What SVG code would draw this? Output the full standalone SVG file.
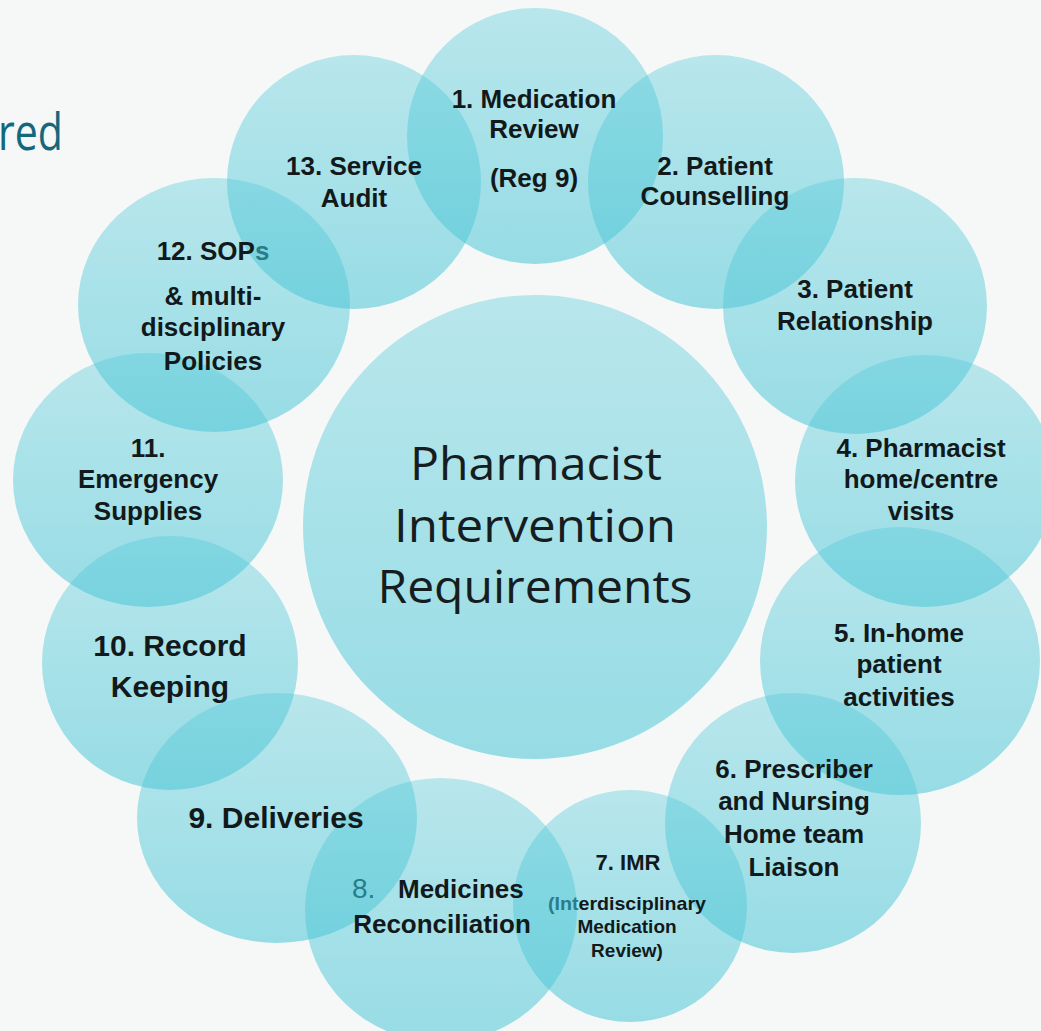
<svg xmlns="http://www.w3.org/2000/svg" width="1041" height="1031" viewBox="0 0 1041 1031">
  <defs>
    <linearGradient id="bubbleFill" x1="0" y1="0" x2="0" y2="1">
      <stop offset="0" stop-color="#52c9d8" stop-opacity="0.38"/>
      <stop offset="1" stop-color="#4cc6d6" stop-opacity="0.56"/>
    </linearGradient>
    <style>
      .bubble { fill: url(#bubbleFill); }
      .hub { fill: url(#bubbleFill); }
      .lbl { font-family: "Liberation Sans", Arial, sans-serif; font-weight: bold; font-size: 26px; fill: #12191b; text-anchor: middle; }
      .big { font-size: 30px; }
      .small { font-size: 19px; }
      .mid { font-size: 22px; }
      .teal { fill: #2a7c88; }
      .hubtxt { font-family: "Open Sans", "Noto Sans", sans-serif; font-size: 46px; fill: #161d20; text-anchor: middle; }
      .title { font-family: "Open Sans", "Noto Sans", sans-serif; font-size: 52px; fill: #14687e; }
    </style>
  </defs>

  <!-- page background -->
  <rect width="1041" height="1031" fill="#f6f8f8"/>

  <!-- fragment of the slide heading -->
  <text class="title" x="-2" y="150" textLength="65" lengthAdjust="spacingAndGlyphs">red</text>

  <!-- central hub -->
  <g id="hub">
    <ellipse class="hub" cx="535" cy="527" rx="232" ry="232"/>
    <text class="hubtxt" x="536" y="480" textLength="252" lengthAdjust="spacingAndGlyphs">Pharmacist</text>
    <text class="hubtxt" x="535" y="542" textLength="282" lengthAdjust="spacingAndGlyphs">Intervention</text>
    <text class="hubtxt" x="535" y="603" textLength="315" lengthAdjust="spacingAndGlyphs">Requirements</text>
  </g>

  <!-- ring of requirement bubbles -->
  <g id="node-1">
    <ellipse class="bubble" cx="535" cy="136" rx="128" ry="128"/>
  </g>
  <g id="node-2">
    <ellipse class="bubble" cx="716" cy="182" rx="128" ry="127"/>
  </g>
  <g id="node-3">
    <ellipse class="bubble" cx="855" cy="306" rx="132" ry="128"/>
  </g>
  <g id="node-4">
    <ellipse class="bubble" cx="925" cy="481" rx="130" ry="126"/>
  </g>
  <g id="node-5">
    <ellipse class="bubble" cx="900" cy="661" rx="140" ry="134"/>
  </g>
  <g id="node-6">
    <ellipse class="bubble" cx="793" cy="823" rx="128" ry="130"/>
  </g>
  <g id="node-7">
    <ellipse class="bubble" cx="630" cy="906" rx="117" ry="116"/>
  </g>
  <g id="node-8">
    <ellipse class="bubble" cx="441" cy="910" rx="136" ry="132"/>
  </g>
  <g id="node-9">
    <ellipse class="bubble" cx="277" cy="818" rx="140" ry="125"/>
  </g>
  <g id="node-10">
    <ellipse class="bubble" cx="170" cy="663" rx="128" ry="127"/>
  </g>
  <g id="node-11">
    <ellipse class="bubble" cx="148" cy="480" rx="135" ry="127"/>
  </g>
  <g id="node-12">
    <ellipse class="bubble" cx="214" cy="305" rx="136" ry="127"/>
  </g>
  <g id="node-13">
    <ellipse class="bubble" cx="354" cy="182" rx="127" ry="127"/>
  </g>

  <!-- no connectors: bubbles simply overlap -->
  <g id="connectors"/>

  <!-- bubble labels -->
  <g id="labels">
    <text class="lbl" x="534" y="108">1. Medication</text>
    <text class="lbl" x="534" y="138">Review</text>
    <text class="lbl" x="534" y="187">(Reg 9)</text>

    <text class="lbl" x="715" y="175">2. Patient</text>
    <text class="lbl" x="715" y="205">Counselling</text>

    <text class="lbl" x="855" y="298">3. Patient</text>
    <text class="lbl" x="855" y="330">Relationship</text>

    <text class="lbl" x="921" y="457">4. Pharmacist</text>
    <text class="lbl" x="921" y="488">home/centre</text>
    <text class="lbl" x="921" y="520">visits</text>

    <text class="lbl" x="899" y="642">5. In-home</text>
    <text class="lbl" x="899" y="673">patient</text>
    <text class="lbl" x="899" y="706">activities</text>

    <text class="lbl" x="794" y="778">6. Prescriber</text>
    <text class="lbl" x="794" y="810">and Nursing</text>
    <text class="lbl" x="794" y="843">Home team</text>
    <text class="lbl" x="794" y="876">Liaison</text>

    <text class="lbl mid" x="628" y="870">7. IMR</text>
    <text class="lbl small" x="627" y="910" textLength="158" lengthAdjust="spacingAndGlyphs"><tspan class="teal">(Int</tspan>erdisciplinary</text>
    <text class="lbl small" x="627" y="933">Medication</text>
    <text class="lbl small" x="627" y="957">Review)</text>

    <text class="lbl" x="352" y="898" style="text-anchor:start"><tspan class="teal" font-weight="normal" font-size="28">8.</tspan><tspan x="398">Medicines</tspan></text>
    <text class="lbl" x="442" y="933">Reconciliation</text>

    <text class="lbl big" x="276" y="828">9. Deliveries</text>

    <text class="lbl big" x="170" y="656">10. Record</text>
    <text class="lbl big" x="170" y="697">Keeping</text>

    <text class="lbl" x="148" y="457">11.</text>
    <text class="lbl" x="148" y="488">Emergency</text>
    <text class="lbl" x="148" y="520">Supplies</text>

    <text class="lbl" x="213" y="260">12. SOP<tspan class="teal">s</tspan></text>
    <text class="lbl" x="213" y="305">&amp; multi-</text>
    <text class="lbl" x="213" y="336">disciplinary</text>
    <text class="lbl" x="213" y="370">Policies</text>

    <text class="lbl" x="354" y="175">13. Service</text>
    <text class="lbl" x="354" y="207">Audit</text>
  </g>
</svg>
